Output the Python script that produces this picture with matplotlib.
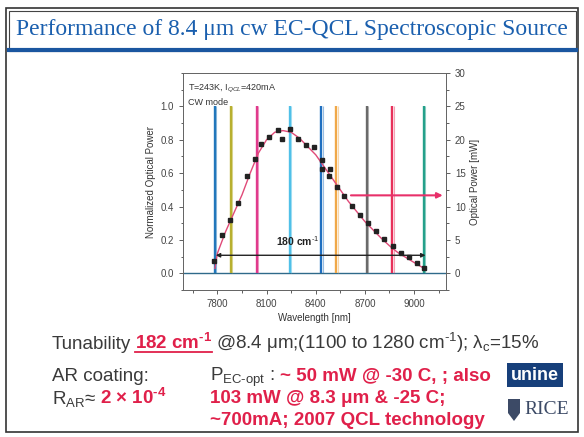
import matplotlib
matplotlib.use("Agg")
import matplotlib.pyplot as plt
from matplotlib.lines import Line2D
from matplotlib.patches import Rectangle, Polygon
from matplotlib.ticker import MultipleLocator, AutoMinorLocator

plt.rcParams['font.family'] = ['Liberation Sans', 'DejaVu Sans']
plt.rcParams['mathtext.fontset'] = 'custom'
plt.rcParams['mathtext.rm'] = 'Liberation Sans'
plt.rcParams['mathtext.it'] = 'Liberation Sans:italic'
plt.rcParams['mathtext.bf'] = 'Liberation Sans:bold'

W, H = 584, 437

# emission lines of the EC-QCL (nm) and their colours
peak_nm = [7785, 7880, 8040, 8240, 8435, 8525, 8712, 8866, 9058]
peak_colors = ["#2277bb", "#b8b030", "#e03a8c", "#50c0e8", "#1f6fc0",
               "#f0a848", "#6a6a6a", "#e8305a", "#24a08a"]
peak_height = [1.0, 1.0, 1.0, 1.0, 1.0, 1.0, 1.0, 1.0, 1.0]

# normalized optical power measured points
pts_nm = [7777, 7830, 7879, 7928, 7981, 8030, 8069, 8115, 8168, 8193, 8242,
          8289, 8340, 8390, 8437, 8441, 8482, 8486, 8531, 8574, 8621, 8670,
          8720, 8765, 8816, 8869, 8918, 8972, 9017, 9062]
pts_norm = [0.076, 0.228, 0.32, 0.42, 0.585, 0.687, 0.774, 0.814, 0.856,
            0.806, 0.866, 0.806, 0.766, 0.754, 0.681, 0.627, 0.58, 0.625,
            0.517, 0.465, 0.405, 0.351, 0.301, 0.251, 0.206, 0.162, 0.122,
            0.095, 0.061, 0.031]

# smooth fit through the points
fit_nm = [7785, 7800, 7850, 7900, 7950, 8000, 8050, 8100, 8150, 8200, 8250,
          8300, 8350, 8400, 8450, 8500, 8550, 8600, 8650, 8700, 8750, 8800,
          8850, 8900, 8950, 9000, 9060]
fit_norm = [0.03, 0.12, 0.25, 0.36, 0.47, 0.60, 0.72, 0.80, 0.845, 0.855,
            0.845, 0.81, 0.76, 0.71, 0.64, 0.57, 0.50, 0.43, 0.37, 0.31,
            0.26, 0.21, 0.165, 0.125, 0.095, 0.065, 0.03]

x_ticks = [7800, 8100, 8400, 8700, 9000]

fig = plt.figure(figsize=(W / 100, H / 100), dpi=100)
fig.patch.set_facecolor("white")


def fx(px):
    return px / W


def fy(py):
    return 1 - py / H


# slide frame + title bar
fig.add_artist(Rectangle((fx(6), fy(432)), fx(572), (424) / H, transform=fig.transFigure,
                         fill=False, ec="#333333", lw=1.2))
fig.add_artist(Rectangle((fx(9), fy(51)), fx(567), 40 / H, transform=fig.transFigure,
                         fill=False, ec="#444444", lw=0.8))
fig.add_artist(Line2D([fx(9), fx(576)], [fy(50), fy(50)], transform=fig.transFigure,
                      color="#1a56a0", lw=3))
fig.text(0.5, fy(29), "Performance of 8.4 \u03bcm cw EC-QCL Spectroscopic Source",
         ha="center", va="center", fontsize=17, color="#1a5fae",
         family=["Liberation Serif", "DejaVu Serif"])

# chart
ax = fig.add_axes([fx(183), fy(290), fx(446) - fx(183), fy(73) - fy(290)])
ax.set_xlim(7590, 9195)
ax.set_ylim(-0.1, 1.2)

ax.axhline(0, color="#2f6a8a", lw=1.0, zorder=2)
for c, col, h in zip(peak_nm, peak_colors, peak_height):
    ax.vlines(c, 0, h, color=col, lw=1.7, zorder=3)
    ax.vlines(c + 9, 0, h, color=col, lw=0.8, alpha=0.45, zorder=3)

ax.plot(fit_nm, fit_norm, color="#e04a78", lw=1.0, zorder=4)
ax.plot(pts_nm, pts_norm, ls="none", marker="s", ms=3.4, color="#222222", zorder=5)

ax.annotate("", xy=(7790, 0.108), xytext=(9070, 0.108),
            arrowprops=dict(arrowstyle="<|-|>", color="#222222", lw=1.0,
                            mutation_scale=6, shrinkA=0, shrinkB=0), zorder=6)
ax.text(8290, 0.19, "180 cm$^{\u20101}$", ha="center", va="center", fontsize=7.5,
        color="#222222", fontweight="bold")
ax.annotate("", xy=(9175, 0.467), xytext=(8615, 0.467),
            arrowprops=dict(arrowstyle="-|>", color="#e8306a", lw=1.5,
                            mutation_scale=8, shrinkA=0, shrinkB=0), zorder=6)

ax.text(0.02, 0.96, "T=243K, I$_{QCL}$=420mA", transform=ax.transAxes,
        fontsize=6.5, color="#333333", va="top")
ax.text(0.02, 0.885, "CW mode", transform=ax.transAxes,
        fontsize=6.5, color="#333333", va="top")

ax.set_xticks(x_ticks)
ax.xaxis.set_minor_locator(AutoMinorLocator(2))
ax.set_yticks([0.0, 0.2, 0.4, 0.6, 0.8, 1.0])
ax.yaxis.set_minor_locator(AutoMinorLocator(2))
ax.tick_params(which="both", direction="out", labelsize=7, colors="#444444",
               length=3, width=0.6)
ax.tick_params(which="minor", length=1.8)
ax.set_yticklabels(["0.0", "0.2", "0.4", "0.6", "0.8", "1.0"])
ax.set_xlabel("Wavelength [nm]", fontsize=7, color="#333333", labelpad=3)
ax.set_ylabel("Normalized Optical Power", fontsize=7, color="#333333", labelpad=3)
for s in ax.spines.values():
    s.set_color("#666666")
    s.set_linewidth(0.7)

ax2 = ax.twinx()
ax2.set_ylim(-2.5, 30)
ax2.yaxis.set_major_locator(MultipleLocator(5))
ax2.yaxis.set_minor_locator(AutoMinorLocator(2))
ax2.tick_params(which="both", direction="out", labelsize=7, colors="#444444",
                length=3, width=0.6)
ax2.tick_params(which="minor", length=1.8)
ax2.set_ylabel("Optical Power [mW]", fontsize=7, color="#333333", labelpad=3)
for s in ax2.spines.values():
    s.set_color("#666666")
    s.set_linewidth(0.7)

# text below the chart
renderer = fig.canvas.get_renderer()
GRAY = "#3a3a3a"
RED = "#e0204a"
FS = 13.5


def put_line(pieces, x, y, size):
    """Writes coloured pieces one after another, returns extents per piece."""
    boxes = []
    for s, col, wt in pieces:
        t = fig.text(fx(x), fy(y), s, color=col, fontweight=wt, fontsize=size,
                     va="baseline", ha="left")
        bb = t.get_window_extent(renderer)
        boxes.append((x, x + bb.width))
        x += bb.width
    return boxes


sp = 4
b = put_line([("Tunability", GRAY, "normal")], 52, 349, FS)
b2 = put_line([("182 cm$^{\\mathbf{\u20101}}$", RED, "bold")], b[0][1] + sp, 349, FS)
fig.add_artist(Line2D([fx(b2[0][0]), fx(b2[0][1])], [fy(352), fy(352)],
                      transform=fig.transFigure, color=RED, lw=1.3))
put_line([("@8.4 \u03bcm;(1100 to 1280 cm$^{\u20101}$); \u03bb$_\\mathrm{c}$=15%", GRAY, "normal")],
         b2[0][1] + sp, 349, FS)

put_line([("AR coating:", GRAY, "normal")], 52, 381, FS)
b = put_line([("R$_\\mathrm{AR}$\u2248", GRAY, "normal")], 52, 404, FS)
put_line([("2 \u00d7 10$^{\\mathbf{\u20104}}$", RED, "bold")], b[0][1] + sp, 404, FS)

b = put_line([("P$_\\mathrm{EC\u2010opt}$ : ", GRAY, "normal")], 210, 381, FS)
put_line([("~ 50 mW @ -30 C, ; also", RED, "bold")], b[0][1] + sp, 381, FS)
put_line([("103 mW @ 8.3 \u03bcm & -25 C;", RED, "bold")], 210, 403, FS)
put_line([("~700mA; 2007 QCL technology", RED, "bold")], 210, 425, FS)

# logos
fig.add_artist(Rectangle((fx(507), fy(387)), 56 / W, 24 / H, transform=fig.transFigure,
                         fc="#173f7a", ec="none"))
fig.text(fx(535), fy(376), "unine", color="white", fontsize=13, fontweight="bold",
         ha="center", va="center")
shield = [(508, 399), (520, 399), (520, 413), (514, 421), (508, 413)]
fig.add_artist(Polygon([(fx(px), fy(py)) for px, py in shield], closed=True,
                       transform=fig.transFigure, fc="#3c4a66", ec="none"))
fig.text(fx(547), fy(410), "RICE", color="#3c4a66", fontsize=14, ha="center",
         va="center", family=["Liberation Serif", "DejaVu Serif"])

fig.savefig("out.png", dpi=100)
